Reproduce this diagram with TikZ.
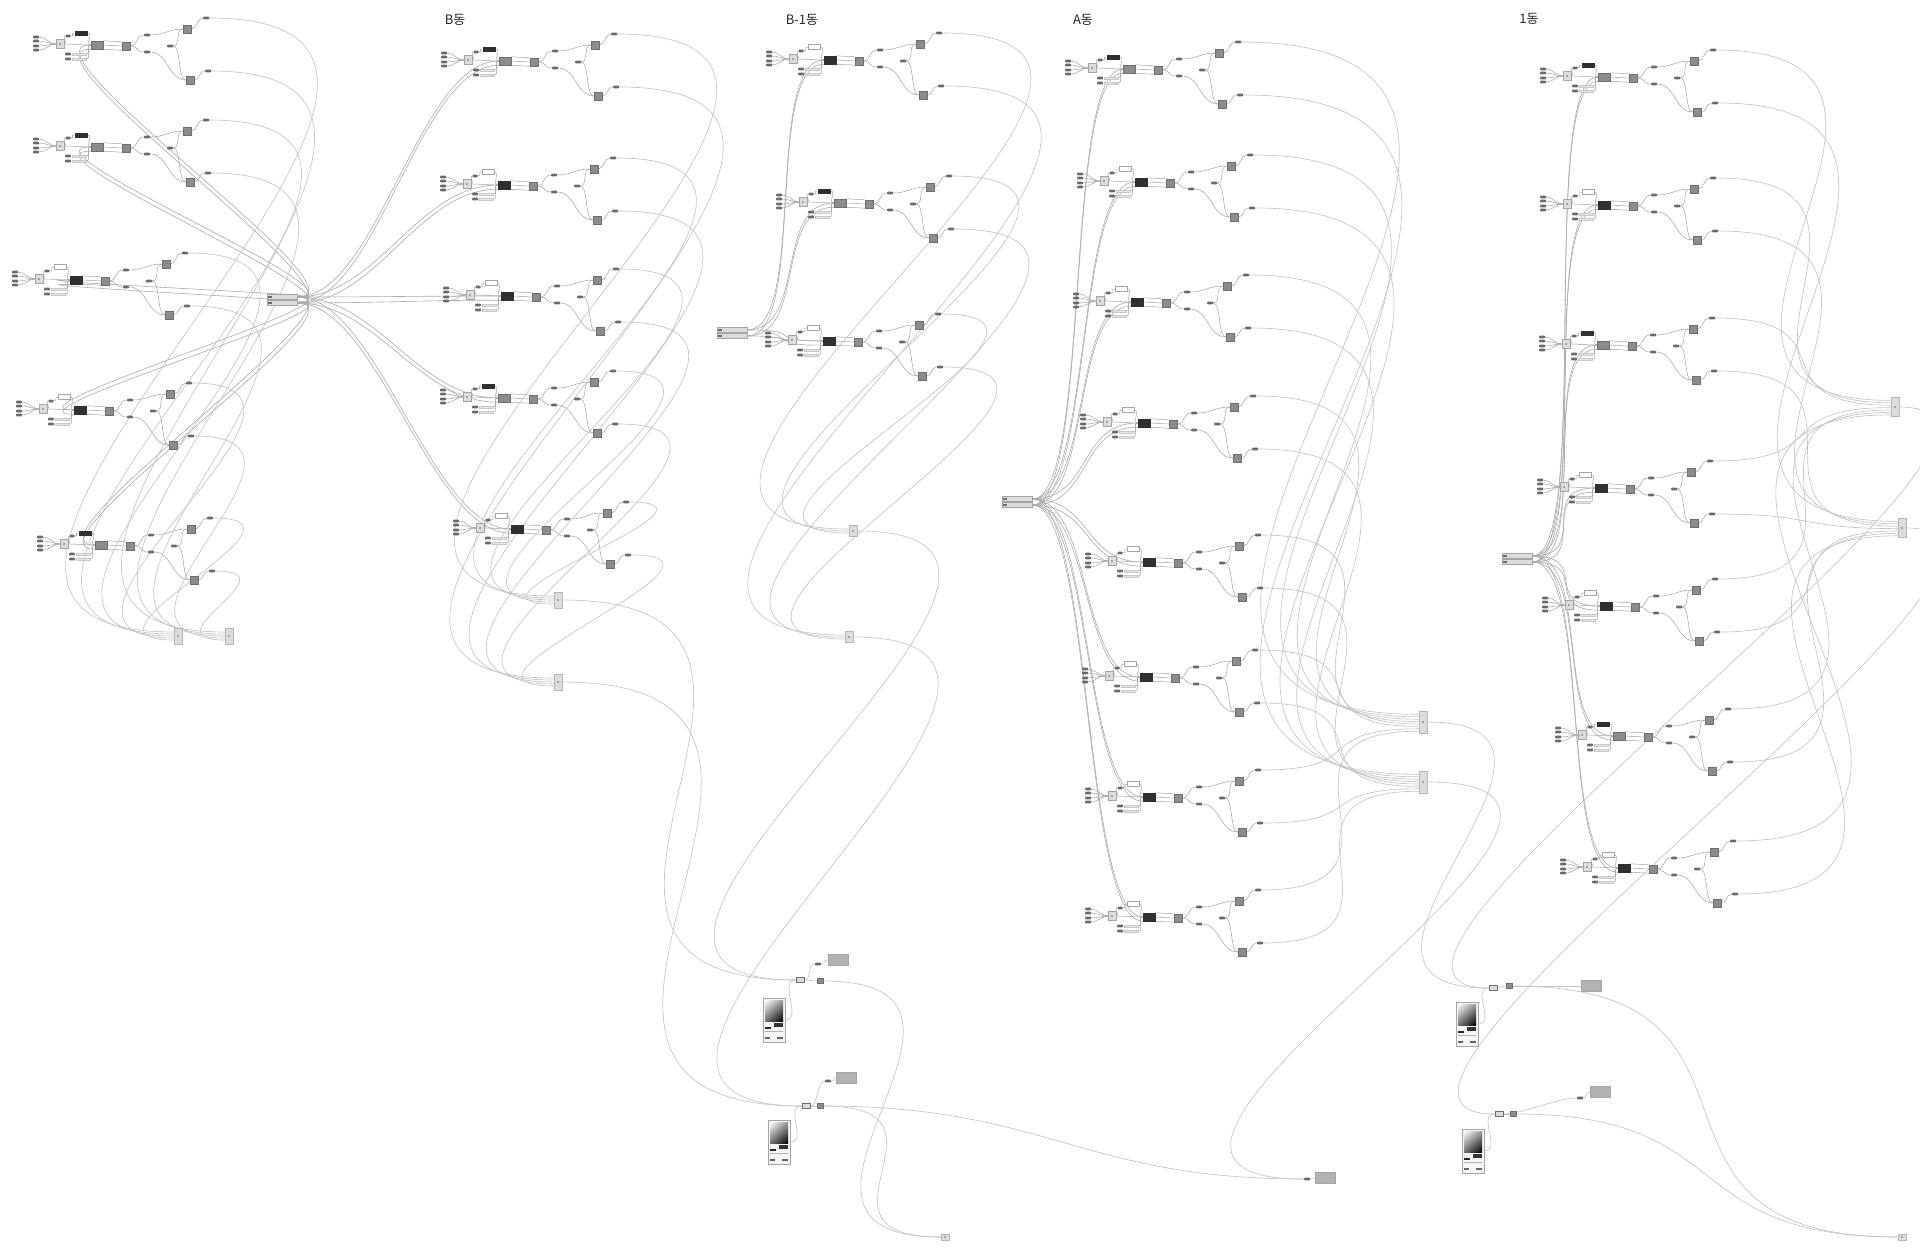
\documentclass[tikz,border=0pt]{standalone}
\usepackage{fontspec}
\newfontfamily\krfont{Noto Sans CJK KR}
\usetikzlibrary{calc,shadings}
\definecolor{wirec}{HTML}{C4C4C4}
\definecolor{wired}{HTML}{ABABAB}
\definecolor{iwirec}{HTML}{A2A2A2}
\definecolor{pillc}{HTML}{6A6A6A}
\definecolor{cfill}{HTML}{DCDCDC}
\definecolor{cdraw}{HTML}{A4A4A4}
\definecolor{gfill}{HTML}{8C8C8C}
\definecolor{gdraw}{HTML}{6E6E6E}
\definecolor{darkn}{HTML}{303030}
\definecolor{barc}{HTML}{E6E6E6}
\definecolor{rectc}{HTML}{B2B2B2}
\pgfdeclarelayer{back}\pgfdeclarelayer{bg}\pgfsetlayers{back,bg,main}
\tikzset{
 wire/.style={draw=wirec,line width=0.65pt},
 hwire/.style={draw=wired,line width=0.6pt},
 iwire/.style={draw=iwirec,line width=0.5pt},
 pill/.style={fill=pillc,minimum width=6pt,minimum height=2.6pt,inner sep=0pt,rounded corners=0.8pt},
 cnode/.style={fill=cfill,draw=cdraw,line width=0.4pt,minimum width=8pt,minimum height=9pt,inner sep=0pt},
 dnode/.style={fill=darkn,minimum width=13pt,minimum height=5pt,inner sep=0pt},
 gnode/.style={fill=gfill,draw=gdraw,line width=0.4pt,minimum width=12pt,minimum height=8pt,inner sep=0pt},
 snode/.style={fill=gfill,draw=gdraw,line width=0.4pt,minimum width=8pt,minimum height=8pt,inner sep=0pt},
 lbox/.style={fill=white,draw=cdraw,line width=0.4pt,minimum width=12pt,minimum height=5pt,inner sep=0pt},
 barbox/.style={fill=barc,draw=cdraw!60,line width=0.3pt,minimum width=14pt,minimum height=2.6pt,inner sep=0pt},
 hub/.style={fill=cfill,draw=cdraw,line width=0.4pt,minimum width=30pt,minimum height=5pt,inner sep=0pt},
 coll/.style={fill=cfill,draw=cdraw!80,line width=0.4pt,minimum width=8pt,minimum height=16pt,inner sep=0pt},
 mnode/.style={fill=cfill,draw=gdraw,line width=0.4pt,minimum width=8pt,minimum height=5pt,inner sep=0pt},
 prect/.style={fill=rectc,draw=cdraw,line width=0.4pt,minimum width=20pt,minimum height=11pt,inner sep=0pt},
 ipanel/.style={draw=cdraw,fill=black!4,line width=0.4pt,minimum width=22pt,minimum height=44pt,inner sep=0pt},
 title/.style={font=\krfont\fontsize{13}{15}\selectfont,text=black!85,inner sep=0pt},
}
\newcommand\gwire[3]{\draw[wire] (#1) .. controls +(#3,0) and +(-#3,0) .. (#2);}
\newcommand\iwire[3]{\draw[iwire] (#1) .. controls +(#3,0) and +(-#3,0) .. (#2);}
% long wire whose handle length grows with distance
\newcommand\awire[2]{\draw[wire] let \p1=(#1), \p2=(#2), \n1={0.55*abs(\y2-\y1)+0.3*abs(\x2-\x1)+40} in (\p1) .. controls +(\n1,0) and +(-\n1,0) .. (\p2);}
\newcommand\gunit[4]{%
 \begin{scope}[shift={(#2,#3)}]
  \node[cnode] (#1c) at (0,0) {};
  \fill[pillc] (0,0) circle[radius=0.9pt];
  \node[pill] (#1i1) at (-24,-7) {};
  \node[pill] (#1i2) at (-24,-3) {};
  \node[pill] (#1i3) at (-24,2) {};
  \node[pill] (#1i4) at (-24,6) {};
  \node[pill,minimum width=5pt] (#1l) at (8,-8) {};
  \ifnum#4=1
   \node[dnode] (#1k) at (21,-11) {};
   \node[gnode] (#1a) at (37,1) {};
  \else
   \node[lbox] (#1k) at (21,-12) {};
   \node[gnode,fill=darkn,draw=darkn] (#1a) at (37,1) {};
  \fi
  \node[pill] (#1p1) at (8,10) {};
  \node[pill] (#1p2) at (8,15) {};
  \node[barbox] (#1q1) at (19,10) {};
  \node[barbox] (#1q2) at (19,15) {};
  \node[snode] (#1b) at (66,2) {};
  \node[pill] (#1m1) at (87,-9) {};
  \node[pill] (#1m2) at (87,8) {};
  \node[pill] (#1d) at (110,2) {};
  \node[snode] (#1e1) at (127,-15) {};
  \node[snode] (#1e2) at (130,36) {};
  \node[pill] (#1f1) at (146,-26) {};
  \node[pill] (#1f2) at (148,27) {};
 \end{scope}
 \begin{pgfonlayer}{bg}
  \foreach \k in {1,...,4}{\iwire{#1i\k.east}{#1c.west}{6}}
  \iwire{#1c.east}{#1l.west}{4}
  \iwire{#1l.east}{#1k.west}{5}
  \iwire{#1k.east}{#1a.west}{6}
  \iwire{#1c.east}{#1a.west}{8}
  \iwire{#1q1.east}{#1a.west}{6}
  \iwire{#1q2.east}{#1a.west}{6}
  \iwire{#1a.east}{#1b.west}{10}
  \iwire{#1a.north east}{#1b.north west}{10}
  \iwire{#1a.south east}{#1b.south west}{10}
  \iwire{#1b.east}{#1m1.west}{8}
  \iwire{#1b.east}{#1m2.west}{8}
  \iwire{#1m1.east}{#1e1.west}{14}
  \iwire{#1d.east}{#1e1.west}{8}
  \iwire{#1d.east}{#1e2.west}{8}
  \iwire{#1m2.east}{#1e2.west}{18}
  \iwire{#1e1.east}{#1f1.west}{6}
  \iwire{#1e2.east}{#1f2.west}{6}
 \end{pgfonlayer}
}
\newcommand\imgpanel[3]{%
 \begin{scope}[shift={(#2,#3)}]
  \node[ipanel] (#1) at (0,0) {};
  \shade[upper left=white,upper right=black!40,lower left=black!55,lower right=black] (-9,-20) rectangle (9,1);
  \fill[black!80] (0,3) rectangle (9,7);
  \fill[black!85] (-9,7) rectangle (-3,9);
  \fill[black!30] (-9,11) rectangle (9,12);
  \fill[black!60] (-9,17) rectangle (-4,19);
  \fill[black!60] (3,17) rectangle (9,19);
 \end{scope}}
\newcommand\collnode[4]{%
 \node[coll,minimum height=#4pt] (#1) at (#2,#3) {};
 \fill[pillc] (#2,#3) circle[radius=0.8pt];}
\newcommand\hubnode[3]{%
 \node[hub] (#11) at (#2,#3-3) {};
 \node[hub] (#12) at (#2,#3+3) {};
 \fill[pillc] (#2-14,#3-4) rectangle (#2-10,#3-2);
 \fill[pillc] (#2-14,#3+2) rectangle (#2-10,#3+4);}
\begin{document}
\begin{tikzpicture}[x=1pt,y=-1pt]
\begin{pgfonlayer}{back}
\fill[white] (0,0) rectangle (1920,1253);
\end{pgfonlayer}
\useasboundingbox (0,0) rectangle (1920,1253);

% titles
\node[title] (tB) at (455,20) {B동};
\node[title] (tB1) at (802,20) {B-1동};
\node[title] (tA) at (1083,20) {A동};
\node[title] (t1) at (1529,19) {1동};

% units: left column
\gunit{a1}{60}{44}{1}
\gunit{a2}{60}{146}{1}
\gunit{a3}{39}{279}{2}
\gunit{a4}{43}{409}{2}
\gunit{a5}{64}{544}{1}
% B
\gunit{b1}{468}{60}{1}
\gunit{b2}{467}{184}{2}
\gunit{b3}{470}{295}{2}
\gunit{b4}{467}{397}{1}
\gunit{b5}{480}{528}{2}
% B-1
\gunit{c1}{793}{59}{2}
\gunit{c2}{803}{202}{1}
\gunit{c3}{792}{340}{2}
% A
\gunit{d1}{1092}{68}{1}
\gunit{d2}{1104}{181}{2}
\gunit{d3}{1100}{301}{2}
\gunit{d4}{1107}{422}{2}
\gunit{d5}{1112}{561}{2}
\gunit{d6}{1109}{676}{2}
\gunit{d7}{1112}{796}{2}
\gunit{d8}{1112}{916}{2}
% 1
\gunit{e1}{1567}{76}{1}
\gunit{e2}{1567}{204}{2}
\gunit{e3}{1566}{344}{1}
\gunit{e4}{1564}{487}{2}
\gunit{e5}{1569}{605}{2}
\gunit{e6}{1582}{735}{1}
\gunit{e7}{1587}{867}{2}

% hubs
\hubnode{hA}{282}{300}
\hubnode{hB}{732}{333}
\hubnode{hC}{1017}{502}
\hubnode{hD}{1517}{559}

% collectors
\collnode{k1a}{178}{636}{16}
\collnode{k1b}{229}{636}{16}
\collnode{k2a}{558}{600}{16}
\collnode{k2b}{558}{682}{16}
\collnode{k3a}{853}{531}{11}
\collnode{k3b}{849}{637}{11}
\collnode{k4a}{1423}{722}{22}
\collnode{k4b}{1423}{782}{22}
\collnode{k5a}{1895}{407}{19}
\collnode{k5b}{1902}{528}{19}
\collnode{end1}{945}{1237}{6}
\collnode{end2}{1902}{1237}{6}

% bottom groups
\imgpanel{pan1}{774}{1020}
\node[mnode] (n1a) at (800,980) {};
\node[snode,minimum height=5pt,minimum width=6pt] (n1b) at (820,981) {};
\node[pill] (pl1) at (818,964) {};
\node[prect] (r1) at (838,960) {};

\imgpanel{pan2}{779}{1142}
\node[mnode] (n2a) at (806,1106) {};
\node[snode,minimum height=5pt,minimum width=6pt] (n2b) at (820,1106) {};
\node[pill] (pl2) at (828,1081) {};
\node[prect] (r2) at (846,1078) {};

\imgpanel{pan3}{1467}{1024}
\node[mnode] (n3a) at (1493,988) {};
\node[snode,minimum height=5pt,minimum width=6pt] (n3b) at (1509,986) {};
\node[prect] (r3) at (1591,986) {};

\imgpanel{pan4}{1473}{1151}
\node[mnode] (n4a) at (1499,1114) {};
\node[snode,minimum height=5pt,minimum width=6pt] (n4b) at (1513,1114) {};
\node[pill] (pl4) at (1580,1098) {};
\node[prect] (r4) at (1600,1092) {};

\node[pill] (pl5) at (1307,1179) {};
\node[prect] (r5) at (1325,1178) {};

\begin{pgfonlayer}{bg}
% hub fans
\foreach \nm in {a1,a2,a3,a4,a5,b1,b2,b3,b4,b5} {
 \draw[hwire] (hA1.east) .. controls +(80,0) and +(-80,0) .. (\nm a.west);
 \draw[hwire] (hA2.east) .. controls +(80,0) and +(-80,0) .. (\nm a.south west);
}
\foreach \nm in {c1,c2,c3} {
 \draw[hwire] (hB1.east) .. controls +(60,0) and +(-60,0) .. (\nm a.west);
 \draw[hwire] (hB2.east) .. controls +(60,0) and +(-60,0) .. (\nm a.south west);
}
\foreach \nm in {d1,d2,d3,d4,d5,d6,d7,d8} {
 \draw[hwire] (hC1.east) .. controls +(60,0) and +(-60,0) .. (\nm a.west);
 \draw[hwire] (hC2.east) .. controls +(60,0) and +(-60,0) .. (\nm a.south west);
}
\foreach \nm in {e1,e2,e3,e4,e5,e6,e7} {
 \draw[hwire] (hD1.east) .. controls +(60,0) and +(-60,0) .. (\nm a.west);
 \draw[hwire] (hD2.east) .. controls +(60,0) and +(-60,0) .. (\nm a.south west);
}
% unit outputs to collectors
\foreach \nm/\jj in {a1/1,a2/2,a3/3,a4/4,a5/5} {
 \awire{\nm f1.east}{$(k1a.west)+(0,2*\jj-6)$}
 \awire{\nm f2.east}{$(k1b.west)+(0,2*\jj-6)$}
}
\foreach \nm/\jj in {b1/1,b2/2,b3/3,b4/4,b5/5} {
 \awire{\nm f1.east}{$(k2a.west)+(0,2*\jj-6)$}
 \awire{\nm f2.east}{$(k2b.west)+(0,2*\jj-6)$}
}
\foreach \nm/\jj in {c1/1,c2/2,c3/3} {
 \awire{\nm f1.east}{$(k3a.west)+(0,2*\jj-4)$}
 \awire{\nm f2.east}{$(k3b.west)+(0,2*\jj-4)$}
}
\foreach \nm/\jj in {d1/1,d2/2,d3/3,d4/4,d5/5,d6/6,d7/7,d8/8} {
 \awire{\nm f1.east}{$(k4a.west)+(0,2.4*\jj-10)$}
 \awire{\nm f2.east}{$(k4b.west)+(0,2.4*\jj-10)$}
}
\foreach \nm/\jj in {e1/1,e2/2,e3/3,e4/4,e5/5,e6/6,e7/7} {
 \awire{\nm f1.east}{$(k5a.west)+(0,2.4*\jj-9)$}
 \awire{\nm f2.east}{$(k5b.west)+(0,2.4*\jj-9)$}
}
% collectors to bottom groups
\awire{k2a.east}{n1a.west}
\awire{k3a.east}{n1a.west}
\awire{k2b.east}{n2a.west}
\awire{k3b.east}{n2a.west}
\awire{k4a.east}{n3a.west}
\gwire{k5a.east}{n3a.west}{220}
\awire{k4b.east}{pl5.west}
\gwire{k5b.east}{n4a.west}{220}
% bottom groups
\gwire{pan1.east}{n1a.west}{18}
\gwire{n1a.east}{n1b.west}{4}
\gwire{n1a.east}{pl1.west}{8}
\gwire{pl1.east}{r1.west}{5}
\awire{n1b.east}{end1.west}
\gwire{pan2.east}{n2a.west}{18}
\gwire{n2a.east}{n2b.west}{4}
\gwire{n2a.east}{pl2.west}{8}
\gwire{pl2.east}{r2.west}{5}
\awire{n2b.east}{end1.west}
\awire{n2b.east}{pl5.west}
\gwire{pan3.east}{n3a.west}{18}
\gwire{n3a.east}{n3b.west}{4}
\gwire{n3b.east}{r3.west}{30}
\awire{n3b.east}{end2.west}
\gwire{pan4.east}{n4a.west}{18}
\gwire{n4a.east}{n4b.west}{4}
\gwire{n4a.east}{pl4.west}{20}
\gwire{pl4.east}{r4.west}{5}
\awire{n4b.east}{end2.west}
\gwire{pl5.east}{r5.west}{4}
\end{pgfonlayer}
\end{tikzpicture}
\end{document}
